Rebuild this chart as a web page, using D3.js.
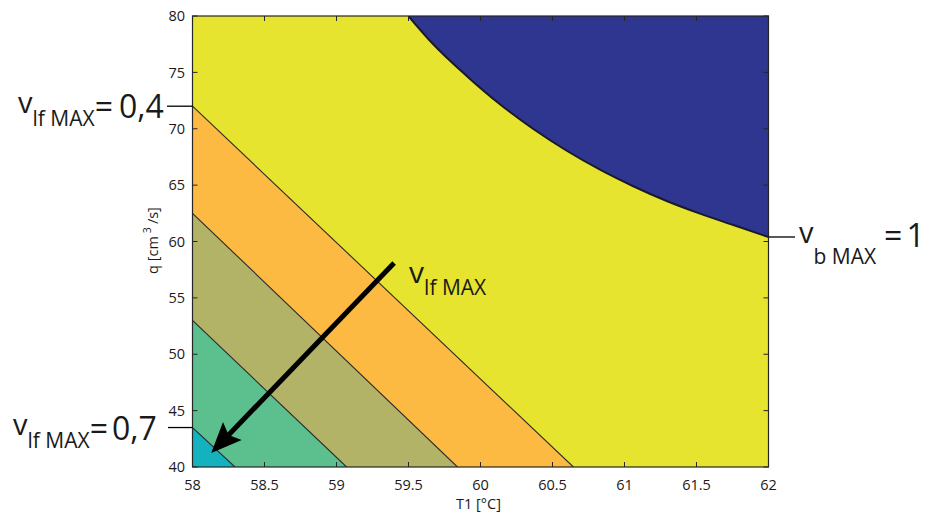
<!DOCTYPE html>
<html>
<head>
<meta charset="utf-8">
<script src="https://cdn.jsdelivr.net/npm/d3@7"></script>
<style>
  body { margin: 0; background: #fff; }
  svg { display: block; }
  text { font-family: "Open Sans", "Noto Sans", sans-serif; fill: #1a1a1a; }
</style>
</head>
<body>
<svg id="chart" width="925" height="516"></svg>
<script>
// Axis ticks
const xTicks = [58, 58.5, 59, 59.5, 60, 60.5, 61, 61.5, 62];
const yTicks = [40, 45, 50, 55, 60, 65, 70, 75, 80];

// v_lf MAX contour levels: where each line crosses T1 = 58 and q = 40
const lfLevels = [0.4, 0.5, 0.6, 0.7];
const lfQAtLeft = [72.0, 62.5, 53.0, 43.5];
const lfT1AtBottom = [60.645, 59.84, 59.07, 58.295];

// Fill colours: below 0.4, then each band up to above 0.7
const bandColors = ["#e6e42f", "#fdba43", "#b3b367", "#5bbf8e", "#14b1bf"];
const blueColor = "#2e3690";

// v_b MAX = 1 contour (region above it is infeasible)
const bT1 = [59.499, 59.672, 59.904, 60.135, 60.367, 60.599, 60.830, 61.061, 61.293, 61.524, 61.756, 62.0];
const bQ  = [80.0, 77.49, 74.68, 72.17, 69.98, 68.05, 66.37, 64.90, 63.59, 62.47, 61.46, 60.40];

// Direction of increasing v_lf MAX
const arrowFrom = [59.40, 58.1];
const arrowTo = [58.13, 41.24];

const svg = d3.select("#chart");
const plot = { left: 192.5, right: 768.5, top: 16, bottom: 467 };

const x = d3.scaleLinear().domain([58, 62]).range([plot.left, plot.right]);
const y = d3.scaleLinear().domain([40, 80]).range([plot.bottom, plot.top]);

svg.append("rect").attr("width", 925).attr("height", 516).attr("fill", "#fff");

svg.append("defs").append("clipPath").attr("id", "plotClip")
  .append("rect")
  .attr("x", plot.left).attr("y", plot.top)
  .attr("width", plot.right - plot.left).attr("height", plot.bottom - plot.top);

const g = svg.append("g").attr("clip-path", "url(#plotClip)");

// base region (v_lf MAX < 0.4)
g.append("rect")
  .attr("x", plot.left).attr("y", plot.top)
  .attr("width", plot.right - plot.left).attr("height", plot.bottom - plot.top)
  .attr("fill", bandColors[0]);

// nested triangles for each level band, lower-left corner included
const line = d3.line().x(d => x(d[0])).y(d => y(d[1]));
lfLevels.forEach((lv, i) => {
  const pts = [[58, lfQAtLeft[i]], [lfT1AtBottom[i], 40], [58, 40]];
  g.append("path")
    .attr("d", line(pts) + "Z")
    .attr("fill", bandColors[i + 1]);
});

// contour lines of v_lf MAX
lfLevels.forEach((lv, i) => {
  g.append("path")
    .attr("d", line([[58, lfQAtLeft[i]], [lfT1AtBottom[i], 40]]))
    .attr("fill", "none")
    .attr("stroke", "#2a2a2a")
    .attr("stroke-width", 1.1);
});

// v_b MAX > 1 region
const bPts = bT1.map((t, i) => [t, bQ[i]]);
const curve = d3.line().x(d => x(d[0])).y(d => y(d[1])).curve(d3.curveMonotoneX);
g.append("path")
  .attr("d", curve(bPts) + `L${x(62)},${y(80)}Z`)
  .attr("fill", blueColor);
g.append("path")
  .attr("d", curve(bPts))
  .attr("fill", "none")
  .attr("stroke", "#1a1a2a")
  .attr("stroke-width", 2);

// Axes: box with inward ticks on all sides
const axisColor = "#262626";
const tickLen = 5;
const axes = svg.append("g");
axes.append("rect")
  .attr("x", plot.left).attr("y", plot.top)
  .attr("width", plot.right - plot.left).attr("height", plot.bottom - plot.top)
  .attr("fill", "none").attr("stroke", axisColor).attr("stroke-width", 1.2);

xTicks.forEach(t => {
  axes.append("line").attr("x1", x(t)).attr("x2", x(t))
    .attr("y1", plot.bottom).attr("y2", plot.bottom - tickLen)
    .attr("stroke", axisColor);
  axes.append("line").attr("x1", x(t)).attr("x2", x(t))
    .attr("y1", plot.top).attr("y2", plot.top + tickLen)
    .attr("stroke", axisColor);
  axes.append("text").attr("x", x(t)).attr("y", 490)
    .attr("text-anchor", "middle").attr("font-size", 14.5)
    .text(d3.format("")(t));
});
yTicks.forEach(t => {
  axes.append("line").attr("x1", plot.left).attr("x2", plot.left + tickLen)
    .attr("y1", y(t)).attr("y2", y(t)).attr("stroke", axisColor);
  axes.append("line").attr("x1", plot.right).attr("x2", plot.right - tickLen)
    .attr("y1", y(t)).attr("y2", y(t)).attr("stroke", axisColor);
  axes.append("text").attr("x", 185).attr("y", y(t)).attr("dy", "0.36em")
    .attr("text-anchor", "end").attr("font-size", 14.5)
    .text(t);
});

// Axis titles
svg.append("text")
  .attr("x", (plot.left + plot.right) / 2 - 2).attr("y", 509)
  .attr("text-anchor", "middle").attr("font-size", 14.5)
  .text("T1 [°C]");

const yTitle = svg.append("text")
  .attr("transform", `translate(158,${(plot.top + plot.bottom) / 2 - 1}) rotate(-90)`)
  .attr("text-anchor", "middle").attr("font-size", 14.5);
yTitle.append("tspan").text("q [cm");
yTitle.append("tspan").attr("font-size", 10.5).attr("dy", -7).attr("dx", 3).text("3");
yTitle.append("tspan").attr("dy", 7).attr("dx", 3).text("/s]");

// Arrow towards increasing v_lf MAX
const p0 = [x(arrowFrom[0]), y(arrowFrom[1])];
const p1 = [x(arrowTo[0]), y(arrowTo[1])];
const len = Math.hypot(p0[0] - p1[0], p0[1] - p1[1]);
const u = [(p0[0] - p1[0]) / len, (p0[1] - p1[1]) / len];
const n = [-u[1], u[0]];
const headLen = 30.5, headHalf = 13, notch = 25;
const notchPt = [p1[0] + u[0] * notch, p1[1] + u[1] * notch];
svg.append("line")
  .attr("x1", p0[0]).attr("y1", p0[1])
  .attr("x2", notchPt[0]).attr("y2", notchPt[1])
  .attr("stroke", "#000").attr("stroke-width", 5);
const wing = s => [p1[0] + u[0] * headLen + n[0] * headHalf * s,
                   p1[1] + u[1] * headLen + n[1] * headHalf * s];
svg.append("path")
  .attr("d", d3.line()([p1, wing(1), notchPt, wing(-1)]) + "Z")
  .attr("fill", "#000");

// Annotations
function label(x0, base, parts) {
  const t = svg.append("text").attr("x", x0).attr("y", base);
  let cur = 0;
  parts.forEach(p => {
    const ts = t.append("tspan").attr("font-size", p.size).text(p.text);
    ts.attr("dy", p.shift - cur);
    if (p.dx) ts.attr("dx", p.dx);
    cur = p.shift;
  });
}

// v_lf MAX = 0,4 marker on the left axis
const a04 = y(lfQAtLeft[0]);
svg.append("line").attr("x1", 167).attr("x2", plot.left)
  .attr("y1", a04).attr("y2", a04).attr("stroke", "#000").attr("stroke-width", 1.3);
label(18, a04 + 11.5, [
  { text: "v", size: 29, shift: -5 },
  { text: "lf MAX", size: 21, shift: 8.5 },
  { text: "=", size: 32, shift: 0 },
  { text: "0,4", size: 32, shift: 0, dx: 6 }
]);

// v_lf MAX = 0,7 marker
const a07 = y(lfQAtLeft[3]);
svg.append("line").attr("x1", 168).attr("x2", plot.left)
  .attr("y1", a07).attr("y2", a07).attr("stroke", "#000").attr("stroke-width", 1.3);
label(13, a07 + 12, [
  { text: "v", size: 29, shift: -5 },
  { text: "lf MAX", size: 21, shift: 8.5 },
  { text: "=", size: 32, shift: 0 },
  { text: "0,7", size: 32, shift: 0, dx: 4 }
]);

// v_b MAX = 1 marker on the right axis
const aB = y(bQ[bQ.length - 1]);
svg.append("line").attr("x1", plot.right).attr("x2", 795)
  .attr("y1", aB).attr("y2", aB).attr("stroke", "#000").attr("stroke-width", 1.3);
label(799, aB + 10, [
  { text: "v", size: 29, shift: -4 },
  { text: "b MAX", size: 21, shift: 17 },
  { text: "=", size: 32, shift: 0, dx: 8 },
  { text: "1", size: 32, shift: 0, dx: 4 }
]);

// label of the arrow
label(p0[0] + 15, p0[1] + 20, [
  { text: "v", size: 30, shift: 0 },
  { text: "lf MAX", size: 21, shift: 12 }
]);
</script>
</body>
</html>
